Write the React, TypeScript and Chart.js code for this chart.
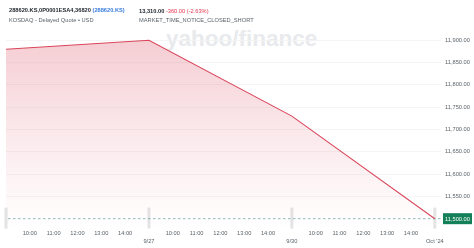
import React, { useEffect, useRef } from "react";
import { Chart, registerables } from "chart.js";

Chart.register(...registerables);

// ---- data ----
const pointX = [0, 6, 12, 18]; // hours since first session start (6h per session)
const prices = [11880, 11900, 11730, 11500];
const xTickValues = [1, 2, 3, 4, 5, 6, 7, 8, 9, 10, 11, 12, 13, 14, 15, 16, 17, 18];
const xTickLabels = [
  "10:00", "11:00", "12:00", "13:00", "14:00", "9/27",
  "10:00", "11:00", "12:00", "13:00", "14:00", "9/30",
  "10:00", "11:00", "12:00", "13:00", "14:00", "Oct '24",
];
const dayTickValues = [6, 12, 18];
const sessionStarts = [0, 6, 12, 18];
const yTickValues = [11550, 11600, 11650, 11700, 11750, 11800, 11850, 11900];
const lastPrice = 11500;

const FONT = "'Liberation Sans', Arial, Helvetica, sans-serif";
const fmt = (v: number) =>
  v.toLocaleString("en-US", { minimumFractionDigits: 2, maximumFractionDigits: 2 });

const overlayPlugin = {
  id: "overlay",
  beforeDatasetsDraw(chart: any) {
    const { ctx, chartArea, scales } = chart;
    ctx.save();
    ctx.fillStyle = "#e4e4e4";
    for (const s of sessionStarts) {
      const px = scales.x.getPixelForValue(s);
      ctx.fillRect(px - 1.5, chartArea.bottom - 20, 3, 21);
    }
    const py = scales.y.getPixelForValue(lastPrice);
    ctx.setLineDash([2.5, 2.5]);
    ctx.strokeStyle = "rgba(70,140,140,0.75)";
    ctx.lineWidth = 0.8;
    ctx.beginPath();
    ctx.moveTo(chartArea.left + 2, py);
    ctx.lineTo(chartArea.right + 2, py);
    ctx.stroke();
    ctx.restore();
  },
  afterDraw(chart: any) {
    const { ctx, chartArea, scales, width } = chart;
    const py = scales.y.getPixelForValue(lastPrice);
    const x0 = chartArea.right + 2;
    ctx.save();
    ctx.fillStyle = "#13805a";
    ctx.fillRect(x0, py - 5.5, width - 2 - x0, 11);
    ctx.fillStyle = "#ffffff";
    ctx.font = `5.7px ${FONT}`;
    ctx.textBaseline = "middle";
    ctx.textAlign = "left";
    ctx.fillText(fmt(lastPrice), x0 + 2, py + 0.3);
    ctx.restore();
  },
};

export default function App() {
  const ref = useRef<HTMLCanvasElement | null>(null);

  useEffect(() => {
    if (!ref.current) return;
    const chart = new Chart(ref.current, {
      type: "line",
      data: {
        datasets: [
          {
            data: pointX.map((x, i) => ({ x, y: prices[i] })),
            borderColor: "#d9465b",
            borderWidth: 1.1,
            pointRadius: 0,
            tension: 0,
            fill: "start",
            backgroundColor: (c: any) => {
              const area = c.chart.chartArea;
              if (!area) return "rgba(216,60,83,0.2)";
              const g = c.chart.ctx.createLinearGradient(0, area.top, 0, area.bottom);
              g.addColorStop(0, "rgba(216,60,83,0.27)");
              g.addColorStop(0.5, "rgba(216,60,83,0.12)");
              g.addColorStop(1, "rgba(216,60,83,0.0)");
              return g;
            },
          },
        ],
      },
      options: {
        animation: false,
        responsive: true,
        maintainAspectRatio: false,
        layout: { padding: { left: 6, top: 29, right: 0, bottom: 0 } },
        plugins: { legend: { display: false }, tooltip: { enabled: false } },
        scales: {
          x: {
            type: "linear",
            min: 0,
            max: 18.26,
            grid: { display: false, drawTicks: false },
            border: { display: false },
            afterBuildTicks: (s: any) => {
              s.ticks = xTickValues.map((v) => ({ value: v }));
            },
            afterFit: (s: any) => {
              s.height = 20.4;
            },
            ticks: {
              autoSkip: false,
              maxRotation: 0,
              padding: 1.2,
              color: "#5b636a",
              font: { family: FONT, size: 5.7, lineHeight: 1.5 },
              callback: (v: any) => {
                const i = xTickValues.indexOf(Number(v));
                if (i < 0) return "";
                return dayTickValues.includes(Number(v)) ? ["", xTickLabels[i]] : xTickLabels[i];
              },
            },
          },
          y: {
            position: "right",
            min: 11480,
            max: 11925.3,
            grid: { color: "#f2f2f2", lineWidth: 0.8, drawTicks: false },
            border: { display: false },
            afterBuildTicks: (s: any) => {
              s.ticks = yTickValues.map((v) => ({ value: v }));
            },
            afterFit: (s: any) => {
              s.width = 33;
            },
            ticks: {
              padding: 4,
              color: "#5b636a",
              font: { family: FONT, size: 5.7 },
              callback: (v: any) => fmt(Number(v)),
            },
          },
        },
      },
      plugins: [overlayPlugin],
    });
    return () => chart.destroy();
  }, []);

  const small: React.CSSProperties = { fontSize: "5.7px", lineHeight: "7px", whiteSpace: "nowrap" };

  return (
    <div style={{ position: "absolute", left: 0, top: 0, width: 474, height: 248, background: "#fff", fontFamily: FONT, overflow: "hidden" }}>
      <div style={{ position: "absolute", left: 166, top: 26, fontSize: "22.5px", fontWeight: 700, color: "#e8eaed", whiteSpace: "nowrap" }}>
        yahoo/finance
      </div>
      <div style={{ position: "absolute", left: 0, top: 0, width: 474, height: 248 }}>
        <canvas ref={ref} />
      </div>
      <div style={{ ...small, position: "absolute", left: 9, top: 7, fontWeight: 700, color: "#232a31" }}>
        288620.KS,0P0001ESA4,36820 <span style={{ color: "#3b7ddd" }}>(288620.KS)</span>
      </div>
      <div style={{ ...small, position: "absolute", left: 9, top: 16.5, color: "#5b636a" }}>
        KOSDAQ - Delayed Quote • USD
      </div>
      <div style={{ ...small, position: "absolute", left: 139, top: 8, fontWeight: 700, color: "#232a31" }}>
        13,310.00 <span style={{ color: "#e0364d", fontWeight: 400 }}>-360.00 (-2.63%)</span>
      </div>
      <div style={{ ...small, position: "absolute", left: 139, top: 16.5, color: "#5b636a" }}>
        MARKET_TIME_NOTICE_CLOSED_SHORT
      </div>
    </div>
  );
}
